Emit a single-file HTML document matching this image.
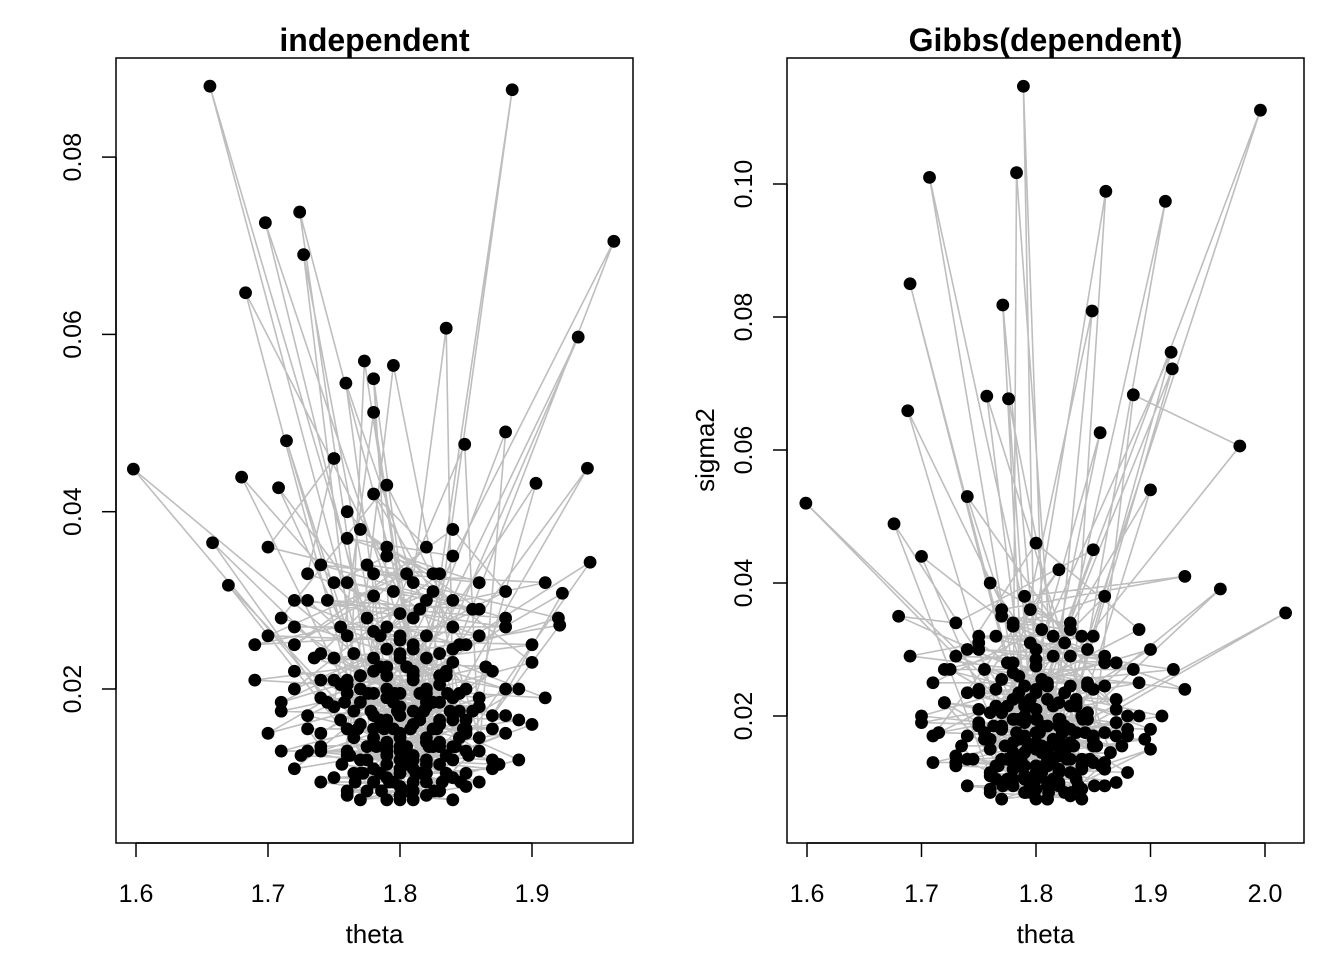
<!DOCTYPE html>
<html><head><meta charset="utf-8"><style>
body{margin:0;background:#fff}
svg{display:block;font-family:"Liberation Sans",Arial,sans-serif}
</style></head><body>
<svg id="chart" width="1344" height="960" xmlns="http://www.w3.org/2000/svg"></svg>
<script>
// Left panel: independent sampler
const thetaL = [
1.80,1.656,1.79,1.82,1.885,1.81,1.962,1.78,1.724,1.83,
1.698,1.80,1.727,1.77,1.683,1.84,1.835,1.79,1.935,1.81,
1.773,1.76,1.795,1.85,1.759,1.80,1.780,1.82,1.780,1.75,
1.598,1.83,1.942,1.79,1.880,1.86,1.849,1.77,1.714,1.80,
1.680,1.81,1.903,1.84,1.658,1.78,1.670,1.82,1.944,1.74,
1.923,1.87,1.921,1.80,1.708,1.76,1.73,1.81,1.75,1.79,
1.83,1.72,1.86,1.77,1.90,1.70,1.84,1.78,1.82,1.74,
1.88,1.71,1.79,1.85,1.76,1.82,1.80,1.69,1.91,1.78,
1.81,1.75,1.87,1.73,1.85,1.79,1.83,1.77,1.89,1.80,
1.76,1.82,1.84,1.74,1.86,1.78,1.81,1.79,1.85,1.83,
1.72,1.88,1.76,1.80,1.87,1.77,1.82,1.74,1.90,1.80,
1.79,1.84,1.78,1.81,1.83,1.76,1.85,1.82,1.80,1.77,
1.79,1.81,1.82,1.78,1.80,1.84,1.76,1.83,1.81,1.79,
1.86,1.73,1.75,1.70,1.92,1.71,1.88,1.84,1.72,1.78,
1.775,1.805,1.825,1.795,1.815,1.765,1.835,1.785,1.845,1.755,
1.79,1.80,1.81,1.82,1.78,1.83,1.77,1.84,1.76,1.85,
1.805,1.795,1.815,1.785,1.825,1.775,1.835,1.765,1.845,1.805,
1.73,1.87,1.74,1.86,1.72,1.88,1.75,1.85,1.71,1.89,
1.80,1.79,1.81,1.78,1.82,1.80,1.79,1.81,1.80,1.82,
1.765,1.835,1.755,1.845,1.775,1.825,1.785,1.815,1.795,1.805,
1.70,1.90,1.69,1.91,1.72,1.88,1.74,1.86,1.76,1.84,
1.78,1.80,1.82,1.76,1.84,1.74,1.86,1.79,1.81,1.83,
1.785,1.815,1.775,1.825,1.795,1.805,1.765,1.835,1.755,1.845,
1.77,1.83,1.79,1.81,1.75,1.85,1.78,1.82,1.80,1.76,
1.772,1.792,1.812,1.832,1.852,1.762,1.782,1.802,1.822,1.842,
1.768,1.788,1.808,1.828,1.848,1.778,1.798,1.818,1.838,1.758,
1.776,1.796,1.816,1.836,1.786,1.806,1.826,1.766,1.846,1.756,
1.77,1.79,1.81,1.83,1.78,1.80,1.82,1.84,1.86,1.74,
1.73,1.87,1.745,1.855,1.735,1.865,1.71,1.89,1.725,1.875,
1.72,1.88,1.745,1.855,1.76,1.84,1.775,1.825,1.79,1.81];
const sigmaL = [
0.015,0.088,0.013,0.018,0.0876,0.012,0.0705,0.017,0.0738,0.014,
0.0726,0.011,0.069,0.016,0.0647,0.019,0.0607,0.010,0.0597,0.021,
0.057,0.013,0.0565,0.015,0.0545,0.009,0.055,0.012,0.0512,0.018,
0.0448,0.016,0.0449,0.014,0.049,0.013,0.0476,0.020,0.048,0.008,
0.0439,0.022,0.0432,0.010,0.0365,0.011,0.0317,0.008,0.0343,0.015,
0.0308,0.017,0.0272,0.024,0.0427,0.026,0.030,0.028,0.032,0.035,
0.033,0.020,0.029,0.038,0.023,0.015,0.027,0.042,0.036,0.024,
0.020,0.028,0.043,0.025,0.040,0.030,0.026,0.025,0.032,0.033,
0.0095,0.010,0.011,0.013,0.009,0.0075,0.0085,0.0075,0.012,0.018,
0.021,0.020,0.023,0.019,0.018,0.022,0.016,0.019,0.020,0.024,
0.011,0.015,0.008,0.013,0.022,0.012,0.014,0.021,0.016,0.0105,
0.0165,0.012,0.0145,0.0175,0.0165,0.0155,0.0165,0.0115,0.0135,0.0105,
0.020,0.0085,0.026,0.0095,0.017,0.0135,0.0195,0.0185,0.025,0.027,
0.026,0.033,0.046,0.036,0.028,0.0185,0.031,0.038,0.025,0.0305,
0.012,0.0135,0.0155,0.0185,0.0105,0.0145,0.0125,0.0225,0.0175,0.0205,
0.0115,0.0145,0.0125,0.0105,0.0195,0.0205,0.0215,0.0165,0.0125,0.0105,
0.0085,0.0155,0.0195,0.0105,0.0135,0.0085,0.0215,0.0175,0.0145,0.0225,
0.017,0.012,0.013,0.019,0.022,0.017,0.021,0.013,0.013,0.020,
0.012,0.0135,0.011,0.0155,0.0145,0.0195,0.0225,0.0215,0.0235,0.0185,
0.024,0.022,0.027,0.025,0.028,0.031,0.026,0.029,0.031,0.033,
0.026,0.025,0.021,0.019,0.030,0.028,0.034,0.032,0.037,0.035,
0.0095,0.0075,0.0095,0.0085,0.0075,0.0095,0.0095,0.0125,0.0075,0.0115,
0.0165,0.0165,0.0135,0.0185,0.0095,0.0115,0.0105,0.0105,0.0165,0.0195,
0.0185,0.0135,0.0245,0.0245,0.0235,0.0155,0.0265,0.0195,0.0285,0.0205,
0.0105,0.0095,0.0105,0.0095,0.0125,0.0125,0.0135,0.0125,0.0135,0.0135,
0.0155,0.0155,0.0155,0.0155,0.0155,0.0175,0.0175,0.0175,0.0175,0.0185,
0.0195,0.0195,0.0195,0.0195,0.0085,0.0085,0.0085,0.0095,0.0095,0.0115,
0.0215,0.0215,0.0215,0.0215,0.0235,0.0255,0.0235,0.0245,0.0145,0.0135,
0.0155,0.0155,0.0185,0.0175,0.0235,0.0225,0.0175,0.0165,0.0125,0.0115,
0.027,0.027,0.030,0.029,0.032,0.030,0.034,0.033,0.036,0.032];
// Right panel: Gibbs sampler
const thetaR = [
1.80,1.789,1.81,1.996,1.79,1.707,1.82,1.783,1.78,1.861,
1.83,1.913,1.80,1.690,1.79,1.771,1.81,1.849,1.77,1.918,
1.82,1.919,1.78,1.688,1.84,1.776,1.80,1.757,1.85,1.885,
1.978,1.79,1.599,1.81,2.018,1.83,1.961,1.76,1.676,1.80,
1.856,1.79,1.90,1.82,1.74,1.87,1.70,1.78,1.85,1.73,
1.68,1.81,1.92,1.80,1.76,1.84,1.72,1.88,1.77,1.93,
1.79,1.86,1.75,1.82,1.71,1.89,1.80,1.74,1.85,1.78,
1.83,1.76,1.87,1.73,1.81,1.90,1.77,1.84,1.79,1.72,
1.75,1.86,1.80,1.88,1.78,1.82,1.76,1.84,1.80,1.91,
1.79,1.83,1.81,1.77,1.85,1.80,1.82,1.78,1.84,1.76,
1.79,1.81,1.80,1.82,1.78,1.83,1.81,1.77,1.86,1.74,
1.90,1.70,1.87,1.75,1.69,1.93,1.78,1.86,1.80,1.83,
1.785,1.815,1.795,1.805,1.775,1.825,1.765,1.835,1.755,1.845,
1.80,1.79,1.81,1.78,1.82,1.77,1.83,1.76,1.84,1.80,
1.795,1.805,1.785,1.815,1.775,1.825,1.765,1.835,1.805,1.795,
1.74,1.86,1.73,1.87,1.72,1.88,1.75,1.85,1.71,1.89,
1.80,1.81,1.79,1.82,1.78,1.80,1.81,1.79,1.80,1.82,
1.765,1.835,1.755,1.845,1.775,1.825,1.785,1.815,1.795,1.805,
1.71,1.89,1.70,1.90,1.73,1.87,1.75,1.85,1.77,1.83,
1.78,1.80,1.82,1.76,1.84,1.74,1.86,1.79,1.81,1.83,
1.785,1.815,1.775,1.825,1.795,1.805,1.765,1.835,1.755,1.845,
1.77,1.83,1.79,1.81,1.75,1.85,1.78,1.82,1.80,1.76,
1.777,1.797,1.817,1.837,1.857,1.767,1.787,1.807,1.827,1.847,
1.773,1.793,1.813,1.833,1.853,1.783,1.803,1.823,1.843,1.763,
1.781,1.801,1.821,1.841,1.791,1.811,1.831,1.771,1.851,1.761,
1.775,1.795,1.815,1.835,1.785,1.805,1.825,1.845,1.865,1.745,
1.735,1.875,1.75,1.86,1.74,1.87,1.715,1.895,1.73,1.88,
1.725,1.885,1.75,1.86,1.765,1.845,1.78,1.83,1.795,1.815];
const sigmaR = [
0.015,0.1147,0.013,0.1111,0.017,0.1010,0.012,0.1017,0.014,0.0989,
0.016,0.0974,0.011,0.0850,0.019,0.0818,0.010,0.0809,0.018,0.0747,
0.014,0.0722,0.013,0.0659,0.012,0.0677,0.009,0.0681,0.017,0.0683,
0.0606,0.020,0.0520,0.015,0.0355,0.018,0.0391,0.011,0.0489,0.016,
0.0626,0.022,0.054,0.010,0.053,0.021,0.044,0.012,0.045,0.034,
0.035,0.025,0.027,0.030,0.040,0.032,0.027,0.020,0.036,0.041,
0.038,0.028,0.024,0.042,0.017,0.033,0.046,0.030,0.024,0.028,
0.008,0.009,0.010,0.014,0.0075,0.015,0.0075,0.009,0.0085,0.022,
0.019,0.013,0.021,0.018,0.016,0.022,0.015,0.020,0.024,0.020,
0.0165,0.0155,0.0185,0.0135,0.0165,0.0125,0.0115,0.0195,0.0135,0.0115,
0.0105,0.0145,0.0175,0.0165,0.0225,0.0245,0.0095,0.0255,0.0245,0.0135,
0.030,0.020,0.017,0.031,0.029,0.024,0.0335,0.038,0.0275,0.029,
0.0125,0.0135,0.0155,0.0185,0.0105,0.0145,0.0125,0.0225,0.0175,0.0205,
0.0115,0.0145,0.0125,0.0105,0.0195,0.0205,0.0215,0.0165,0.0125,0.0105,
0.0085,0.0155,0.0195,0.0105,0.0135,0.0085,0.0215,0.0175,0.0145,0.0225,
0.017,0.012,0.013,0.019,0.022,0.017,0.021,0.013,0.013,0.020,
0.0125,0.0135,0.011,0.0155,0.0145,0.0195,0.0225,0.0215,0.0235,0.0185,
0.024,0.022,0.027,0.025,0.028,0.031,0.026,0.029,0.031,0.033,
0.025,0.025,0.019,0.018,0.029,0.028,0.032,0.032,0.035,0.034,
0.0095,0.0075,0.0095,0.0085,0.0075,0.0095,0.0095,0.0125,0.0075,0.0115,
0.0165,0.0165,0.0135,0.0185,0.0095,0.0115,0.0105,0.0105,0.0165,0.0195,
0.0185,0.0135,0.0245,0.0245,0.0235,0.0155,0.0265,0.0195,0.0285,0.0205,
0.0105,0.0095,0.0105,0.0095,0.0125,0.0125,0.0135,0.0125,0.0135,0.0135,
0.0155,0.0155,0.0155,0.0155,0.0155,0.0175,0.0175,0.0175,0.0175,0.0185,
0.0195,0.0195,0.0195,0.0195,0.0085,0.0085,0.0085,0.0095,0.0095,0.0115,
0.0215,0.0215,0.0215,0.0215,0.0235,0.0255,0.0235,0.0245,0.0145,0.0135,
0.0155,0.0155,0.0185,0.0175,0.0235,0.0225,0.0175,0.0165,0.0125,0.0115,
0.027,0.027,0.030,0.029,0.032,0.030,0.034,0.033,0.036,0.032];
const xTicksL = [1.6,1.7,1.8,1.9];
const yTicksL = [0.02,0.04,0.06,0.08];
const xTicksR = [1.6,1.7,1.8,1.9,2.0];
const yTicksR = [0.02,0.04,0.06,0.08,0.10];

const NS='http://www.w3.org/2000/svg';
const svg=document.getElementById('chart');
function mk(tag,attrs,parent){const e=document.createElementNS(NS,tag);for(const k in attrs)e.setAttribute(k,attrs[k]);(parent||svg).appendChild(e);return e;}

function panel(p){
  const g=mk('g',{});
  
  
  const sx=v=>p.x0+(v-p.tx0)*p.kx;
  const sy=v=>p.y0-(v-p.ty0)*p.ky;
  let d='';
  p.xs.forEach((v,i)=>{d+=(i?'L':'M')+sx(v).toFixed(1)+','+sy(p.ys[i]).toFixed(1);});
  const path=mk('path',{d:d,fill:'none',stroke:'#bebebe','stroke-width':1.6},g);
  
  
  p.xs.forEach((v,i)=>{
    const c=mk('circle',{cx:sx(v),cy:sy(p.ys[i]),r:6.4,fill:'#000'},g);
    
    
  });
  const box=mk('rect',{x:p.bx0,y:58,width:p.bx1-p.bx0,height:785,fill:'none',stroke:'#000','stroke-width':1.5},g);
  
  
  mk('line',{x1:sx(p.xt[0]),x2:sx(p.xt[p.xt.length-1]),y1:843,y2:843,stroke:'#000','stroke-width':1.5},g);
  p.xt.forEach(t=>{
    mk('line',{x1:sx(t),x2:sx(t),y1:843,y2:857,stroke:'#000','stroke-width':1.5},g);
    const tx=mk('text',{x:sx(t),y:902,'text-anchor':'middle','font-size':25},g);
    tx.textContent=t.toFixed(1);
    
    
  });
  mk('line',{x1:p.bx0,x2:p.bx0,y1:sy(p.yt[0]),y2:sy(p.yt[p.yt.length-1]),stroke:'#000','stroke-width':1.5},g);
  p.yt.forEach(t=>{
    mk('line',{x1:p.bx0,x2:p.bx0-14,y1:sy(t),y2:sy(t),stroke:'#000','stroke-width':1.5},g);
    const tx=mk('text',{x:p.bx0-35,y:sy(t),'text-anchor':'middle','font-size':25,transform:`rotate(-90 ${p.bx0-35} ${sy(t)})`},g);
    tx.textContent=t.toFixed(2);
    
    
  });
  const ti=mk('text',{x:(p.bx0+p.bx1)/2,y:51,'text-anchor':'middle','font-size':32,'font-weight':'bold'},g);
  ti.textContent=p.title;
  
  
  const xl=mk('text',{x:(p.bx0+p.bx1)/2,y:943,'text-anchor':'middle','font-size':26},g);
  xl.textContent='theta';
  
  
  if(p.ylab){
    const yl=mk('text',{x:714,y:450,'text-anchor':'middle','font-size':26,transform:'rotate(-90 714 450)'},g);
    yl.textContent=p.ylab;
    
    
  }
}
panel({name:'independent-panel',title:'independent',xs:thetaL,ys:sigmaL,xt:xTicksL,yt:yTicksL,
  bx0:116,bx1:633,x0:136,tx0:1.6,kx:1320,y0:689,ty0:0.02,ky:8865});
panel({name:'gibbs-panel',title:'Gibbs(dependent)',xs:thetaR,ys:sigmaR,xt:xTicksR,yt:yTicksR,ylab:'sigma2',
  bx0:787,bx1:1304,x0:807,tx0:1.6,kx:1145,y0:716,ty0:0.02,ky:6650});
</script>
</body></html>
